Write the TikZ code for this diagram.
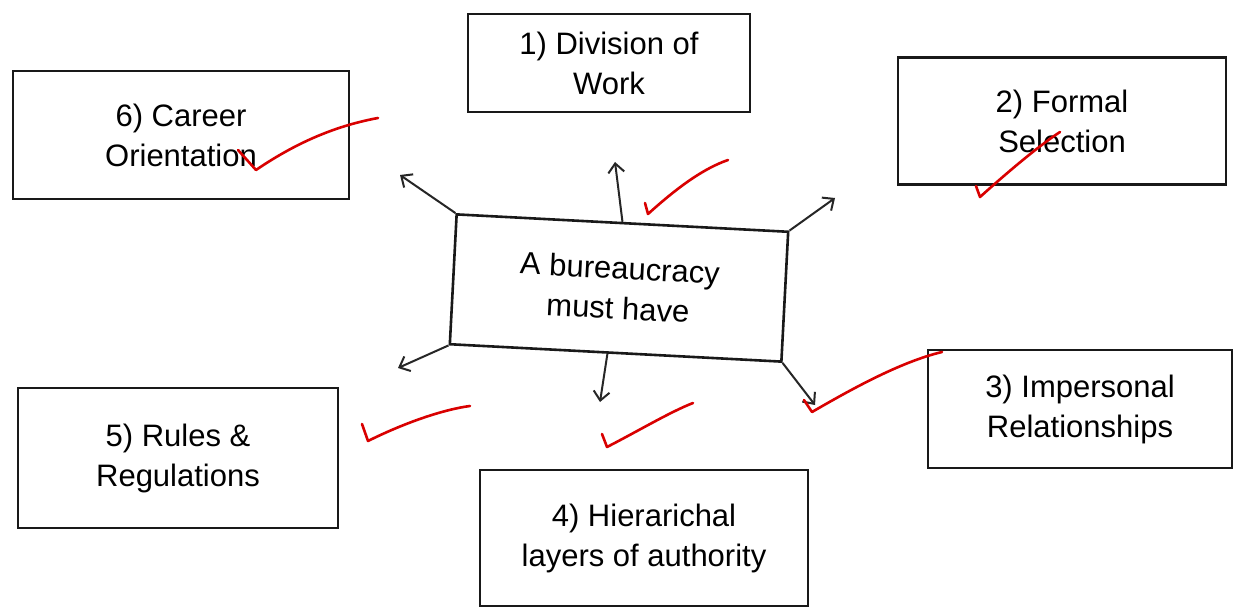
\documentclass[tikz,border=0pt]{standalone}
\usepackage{fontspec}
\setmainfont{Liberation Sans}
\usetikzlibrary{arrows.meta}
\begin{document}
\begin{tikzpicture}[x=1pt,y=-1pt,
  boxnode/.style={draw=black!90, line width=2.6pt, align=center, inner sep=0pt,
    font=\fontsize{31}{40}\selectfont},
  arr/.style={draw=black!85, line width=2pt, -{Straight Barb[length=9pt,width=16pt]}},
  tick/.style={draw=red!85!black, line width=2.6pt, line cap=round, line join=round}]
\useasboundingbox (0,0) rectangle (1238,612);
\fill[white] (0,0) rectangle (1238,612);

\node[boxnode, minimum width=282pt, minimum height=98pt] (b1) at (609,63) {1) Division of\\Work};
\node[boxnode, minimum width=336pt, minimum height=128pt] (b6) at (181,135) {6) Career\\Orientation};
\node[boxnode, minimum width=328pt, minimum height=127pt] (b2) at (1062,121) {2) Formal\\Selection};
\node[boxnode, minimum width=332pt, minimum height=130pt, rotate=-3] (c) at (619,288) {A bureaucracy\\must have};
\node[boxnode, minimum width=304pt, minimum height=118pt] (b3) at (1080,409) {3) Impersonal\\Relationships};
\node[boxnode, minimum width=320pt, minimum height=140pt] (b5) at (178,458) {5) Rules \&\\Regulations};
\node[boxnode, minimum width=328pt, minimum height=136pt] (b4) at (644,538) {4) Hierarichal\\layers of authority};

\coordinate (t1) at (615,162);
\coordinate (t6) at (400,175);
\coordinate (t2) at (835,198);
\coordinate (t5) at (398,368);
\coordinate (t4) at (600,402);
\coordinate (t3) at (815,405);

\draw[arr] (c.north) -- (t1);
\draw[arr] (c.north west) -- (t6);
\draw[arr] (c.north east) -- (t2);
\draw[arr] (c.south west) -- (t5);
\draw[arr] (c.-97) -- (t4);
\draw[arr] (c.south east) -- (t3);

% red check marks
\draw[tick] (238,150) -- (256,170) .. controls (300,140) and (340,125) .. (378,118);
\draw[tick] (645,203) -- (648,214) .. controls (680,185) and (705,168) .. (728,160);
\draw[tick] (976,186) -- (980,197) .. controls (1010,170) and (1040,145) .. (1060,132);
\draw[tick] (804,400) -- (812,412) .. controls (850,390) and (900,362) .. (942,352);
\draw[tick] (362,424) -- (368,441) .. controls (400,425) and (440,410) .. (470,406);
\draw[tick] (602,434) -- (607,447) .. controls (640,430) and (670,412) .. (693,403);
\end{tikzpicture}
\end{document}
